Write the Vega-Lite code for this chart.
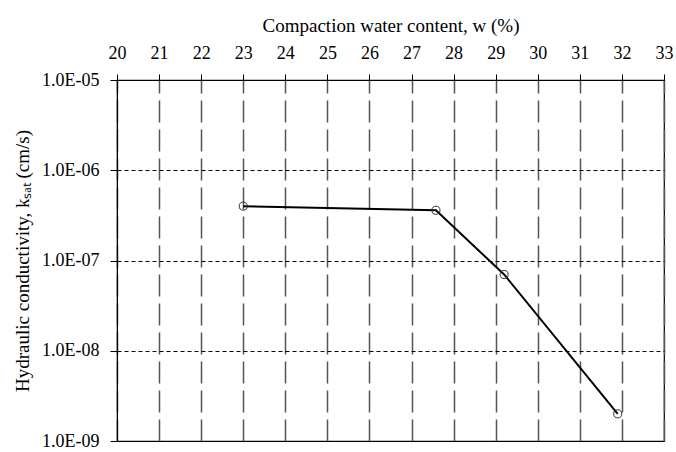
{
  "$schema": "https://vega.github.io/schema/vega-lite/v6.json",
  "autosize": {"type": "none"},
  "padding": {"left": 117, "top": 80, "right": 12, "bottom": 11},
  "width": 547,
  "height": 361,
  "background": "white",
  "config": {
    "view": {"stroke": "#000", "strokeWidth": 1.2},
    "font": "Liberation Serif",
    "axis": {
      "labelFont": "Liberation Serif",
      "titleFont": "Liberation Serif",
      "labelColor": "#000",
      "titleColor": "#000",
      "titleFontWeight": "normal",
      "domainColor": "#000",
      "tickColor": "#000",
      "labelFontSize": 18,
      "titleFontSize": 19
    }
  },
  "data": {
    "values": [
      {"w": 23.0, "k": 4.0e-7},
      {"w": 27.58, "k": 3.6e-7},
      {"w": 29.2, "k": 7.0e-8},
      {"w": 31.9, "k": 2.0e-9}
    ]
  },
  "encoding": {
    "x": {
      "field": "w",
      "type": "quantitative",
      "scale": {"domain": [20, 33], "nice": false, "zero": false},
      "axis": {
        "orient": "top",
        "title": "Compaction water content, w (%)",
        "values": [20, 21, 22, 23, 24, 25, 26, 27, 28, 29, 30, 31, 32, 33],
        "tickSize": 6,
        "labelPadding": 12,
        "titlePadding": 9,
        "grid": true,
        "gridColor": "#555",
        "gridWidth": 1.5,
        "gridDash": [22, 7],
        "gridOpacity": 1,
        "labelFlush": false,
        "labelOverlap": false
      }
    },
    "y": {
      "field": "k",
      "type": "quantitative",
      "scale": {"type": "log", "domain": [1e-9, 1e-5], "nice": false},
      "axis": {
        "title": "Hydraulic conductivity, kₛₐₜ (cm/s)",
        "values": [1e-9, 1e-8, 1e-7, 1e-6, 1e-5],
        "labelExpr": "'1.0E-0' + toString(-round(log(datum.value)/LN10))",
        "tickSize": 7,
        "labelPadding": 11,
        "titlePadding": 9,
        "grid": true,
        "gridColor": "#000",
        "gridWidth": 1,
        "gridDash": [4, 3],
        "gridOpacity": 1,
        "labelFlush": false,
        "labelOverlap": false
      }
    }
  },
  "layer": [
    {"mark": {"type": "line", "color": "#000", "strokeWidth": 2}},
    {"mark": {"type": "point", "shape": "circle", "filled": false, "color": "#333", "strokeWidth": 1, "size": 65, "opacity": 1}}
  ]
}
